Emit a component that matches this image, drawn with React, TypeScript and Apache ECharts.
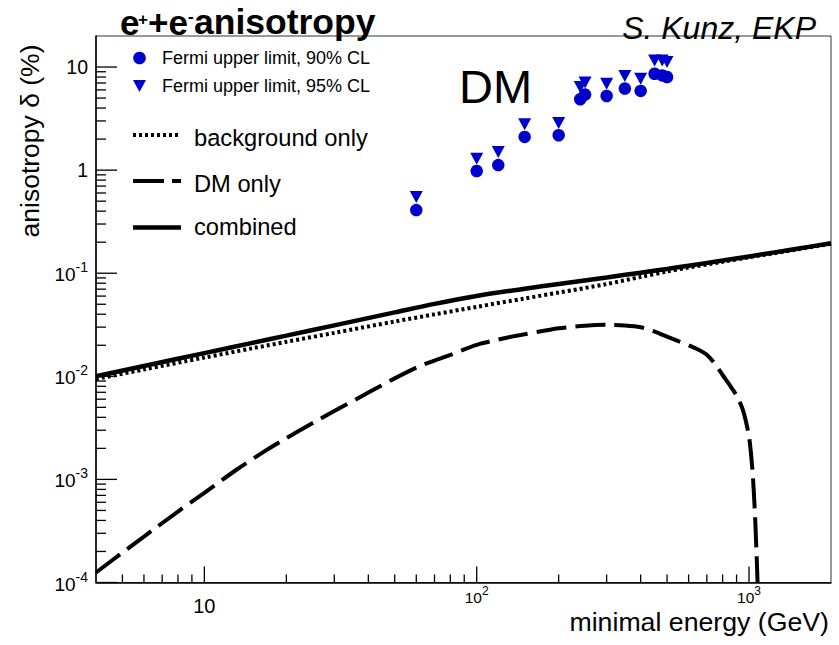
import React, { useEffect, useRef } from "react";
import * as echarts from "echarts";

// ---------- data ----------
const fermiEnergy = [60, 100, 120, 150, 200, 240, 250, 300, 350, 400, 450, 480, 500];
const fermi90 = [0.41, 0.98, 1.12, 2.1, 2.18, 4.87, 5.4, 5.24, 6.18, 5.86, 8.6, 8.3, 8.0];
const fermi95 = [0.55, 1.29, 1.5, 2.79, 2.87, 6.4, 7.07, 6.9, 8.17, 7.7, 11.6, 11.6, 11.2];

const curveEnergy = [4, 6, 10, 15, 20, 30, 50, 70, 100, 150, 200, 300, 400, 500, 600, 800, 1000, 1500, 2000];
const combined = [0.01, 0.01258, 0.0168, 0.0211, 0.0248, 0.0312, 0.0417, 0.0504, 0.0602, 0.0708, 0.0787, 0.091, 0.1012, 0.1101, 0.1183, 0.1327, 0.1455, 0.1725, 0.1954];
const background = [0.0094, 0.01166, 0.0152, 0.0187, 0.0216, 0.0264, 0.034, 0.0399, 0.0472, 0.0569, 0.0649, 0.0785, 0.092, 0.104, 0.1135, 0.129, 0.1425, 0.17, 0.193];

const dmEnergy = [4, 5, 6, 8, 10, 13, 16.5, 20, 25, 30, 40, 50, 60, 70, 80, 100, 130, 150, 200, 250, 300, 350, 400, 450, 500, 550, 600, 650, 700, 750, 800, 850, 900, 950, 1000, 1030, 1050, 1065, 1075];
const dmOnly = [1.25e-4, 1.95e-4, 2.79e-4, 4.88e-4, 7.41e-4, 1.22e-3, 1.85e-3, 2.51e-3, 3.52e-3, 4.6e-3, 6.95e-3, 9.55e-3, 0.01216, 0.0142, 0.0161, 0.0202, 0.0238, 0.0256, 0.0292, 0.031, 0.0316, 0.0311, 0.0299, 0.0272, 0.0243, 0.0219, 0.02, 0.0182, 0.0162, 0.0132, 0.0103, 0.0082, 0.0065, 0.0047, 0.0026, 0.0012, 5e-4, 2e-4, 1e-4];

// ---------- axes ----------
const X_MIN = 4;
const X_MAX = 2000;
const Y_MIN = 1e-4;
const Y_MAX = 20;

const xMajorTicks = [10, 100, 1000];
const xMinorTicks = [5, 6, 7, 8, 9, 20, 30, 40, 50, 60, 70, 80, 90, 200, 300, 400, 500, 600, 700, 800, 900];
const yMajorTicks = [1e-4, 1e-3, 1e-2, 1e-1, 1, 10];
const yMinorMantissa = [2, 3, 4, 5, 6, 7, 8, 9];

const xLabelValues = [10, 100, 1000];
const xLabelBase = ["10", "10", "10"];
const xLabelSup = ["", "2", "3"];
const yLabelValues = [1e-4, 1e-3, 1e-2, 1e-1, 1, 10];
const yLabelBase = ["10", "10", "10", "10", "1", "10"];
const yLabelSup = ["-4", "-3", "-2", "-1", "", ""];

const FONT = "Liberation Sans, Arial, Helvetica, sans-serif";
const BLUE = "#0000cc";

const X_PLAIN = 20;
const X_BASE = 15.5;
const X_SUP = 12;
const Y_PLAIN = 19.5;
const Y_BASE = 19;
const Y_SUP = 14;

let measureCtx: CanvasRenderingContext2D | null = null;
function textWidth(text: string, size: number, weight = "normal"): number {
  if (!measureCtx) measureCtx = document.createElement("canvas").getContext("2d");
  if (!measureCtx) return text.length * size * 0.55;
  measureCtx.font = `${weight} ${size}px "Liberation Sans", Arial, sans-serif`;
  return measureCtx.measureText(text).width;
}

function txt(x: number, y: number, text: string, size: number, extra: any = {}) {
  return {
    type: "text",
    x,
    y,
    style: {
      text,
      fontFamily: FONT,
      fontSize: size,
      fill: "#000",
      align: "left",
      verticalAlign: "middle",
      ...extra,
    },
  };
}

function labelText(x: number, y: number, text: string, size: number, align: string) {
  return {
    type: "text",
    x,
    y,
    style: { text, fontFamily: FONT, fontSize: size, fill: "#000", align, verticalAlign: "middle" },
  };
}

export default function App() {
  const ref = useRef<HTMLDivElement>(null);

  useEffect(() => {
    if (!ref.current) return;
    const chart = echarts.init(ref.current, null, { renderer: "svg" });

    const yMinorTicks: number[] = [];
    for (let e = -4; e <= 0; e++) {
      for (const m of yMinorMantissa) yMinorTicks.push(m * Math.pow(10, e));
    }
    const tickData = [
      ...xMajorTicks.map((v) => [v, Y_MIN, 0]),
      ...xMinorTicks.map((v) => [v, Y_MIN, 1]),
      ...yMajorTicks.map((v) => [X_MIN, v, 2]),
      ...yMinorTicks.map((v) => [X_MIN, v, 3]),
    ];

    const labelSeries = (name: string, data: number[][], render: (p: number[], i: number) => any) => ({
      name,
      type: "custom",
      clip: false,
      silent: true,
      data,
      renderItem: (params: any, api: any) => {
        const p = api.coord([api.value(0), api.value(1)]);
        return render(p, params.dataIndex);
      },
      z: 2,
    });

    const option: any = {
      animation: false,
      backgroundColor: "#fff",
      grid: {
        left: 96,
        right: 8,
        top: 36,
        bottom: 62.5,
        show: true,
        borderColor: "#333",
        borderWidth: 1,
        backgroundColor: "transparent",
      },
      xAxis: {
        type: "log",
        logBase: 10,
        min: X_MIN,
        max: X_MAX,
        axisLine: { show: true, lineStyle: { color: "#000", width: 1.5 } },
        axisTick: { show: false },
        minorTick: { show: false },
        splitLine: { show: false },
        axisLabel: { show: false },
      },
      yAxis: {
        type: "log",
        logBase: 10,
        min: Y_MIN,
        max: Y_MAX,
        axisLine: { show: true, lineStyle: { color: "#000", width: 1.5 } },
        axisTick: { show: false },
        minorTick: { show: false },
        splitLine: { show: false },
        axisLabel: { show: false },
      },
      series: [
        {
          name: "ticks",
          type: "custom",
          clip: false,
          silent: true,
          data: tickData,
          renderItem: (params: any, api: any) => {
            const p = api.coord([api.value(0), api.value(1)]);
            const k = api.value(2);
            const len = k === 0 ? 16 : k === 1 ? 8 : k === 2 ? 21 : 10;
            const shape =
              k < 2
                ? { x1: p[0], y1: p[1], x2: p[0], y2: p[1] - len }
                : { x1: p[0], y1: p[1], x2: p[0] + len, y2: p[1] };
            return { type: "line", shape, style: { stroke: "#000", lineWidth: 1.3 } };
          },
          z: 1,
        },
        // x tick labels: base part
        labelSeries("xLabelBase", xLabelValues.map((v) => [v, Y_MIN]), (p, i) => {
          const sup = xLabelSup[i];
          if (!sup) return labelText(p[0], p[1] + 23.5, xLabelBase[i], X_PLAIN, "center");
          const wb = textWidth(xLabelBase[i], X_BASE);
          const ws = textWidth(sup, X_SUP);
          return labelText(p[0] - (wb + ws) / 2, p[1] + 15, xLabelBase[i], X_BASE, "left");
        }),
        // x tick labels: superscript part
        labelSeries("xLabelSup", xLabelValues.map((v) => [v, Y_MIN]), (p, i) => {
          const sup = xLabelSup[i];
          if (!sup) return null;
          const wb = textWidth(xLabelBase[i], X_BASE);
          const ws = textWidth(sup, X_SUP);
          return labelText(p[0] - (wb + ws) / 2 + wb, p[1] + 8, sup, X_SUP, "left");
        }),
        // y tick labels: base part
        labelSeries("yLabelBase", yLabelValues.map((v) => [X_MIN, v]), (p, i) => {
          const sup = yLabelSup[i];
          const right = p[0] - 8;
          if (!sup) return labelText(right, p[1], yLabelBase[i], Y_PLAIN, "right");
          const ws = textWidth(sup, Y_SUP);
          return labelText(right - ws, p[1] + 1.5, yLabelBase[i], Y_BASE, "right");
        }),
        // y tick labels: superscript part
        labelSeries("yLabelSup", yLabelValues.map((v) => [X_MIN, v]), (p, i) => {
          const sup = yLabelSup[i];
          if (!sup) return null;
          return labelText(p[0] - 8, p[1] - 6, sup, Y_SUP, "right");
        }),
        {
          name: "Fermi upper limit, 90% CL",
          type: "scatter",
          symbol: "circle",
          symbolSize: 12.5,
          itemStyle: { color: BLUE, opacity: 1 },
          data: fermiEnergy.map((x, i) => [x, fermi90[i]]),
          z: 3,
        },
        {
          name: "Fermi upper limit, 95% CL",
          type: "scatter",
          symbol: "path://M0,0L14,0L7,12Z",
          symbolSize: [13, 12],
          itemStyle: { color: BLUE, opacity: 1 },
          data: fermiEnergy.map((x, i) => [x, fermi95[i]]),
          z: 3,
        },
        {
          name: "background only",
          type: "line",
          symbol: "none",
          smooth: 0.3,
          lineStyle: { color: "#000", width: 4, type: [3, 3], cap: "butt" },
          data: curveEnergy.map((x, i) => [x, background[i]]),
          z: 4,
        },
        {
          name: "DM only",
          type: "line",
          symbol: "none",
          smooth: 0.25,
          lineStyle: { color: "#000", width: 4, type: [30, 9], cap: "butt" },
          data: dmEnergy.map((x, i) => [x, dmOnly[i]]),
          z: 4,
        },
        {
          name: "combined",
          type: "line",
          symbol: "none",
          smooth: 0.35,
          lineStyle: { color: "#000", width: 4.5 },
          data: curveEnergy.map((x, i) => [x, combined[i]]),
          z: 5,
        },
      ],
      graphic: [
        // title: e+ + e- anisotropy
        txt(120, 22, "e", 35, { fontWeight: "bold" }),
        txt(138, 19, "+", 17, { fontWeight: "bold" }),
        txt(148, 22, "+e", 35, { fontWeight: "bold" }),
        txt(188, 16, "-", 17, { fontWeight: "bold" }),
        txt(194, 22, "anisotropy", 35.5, { fontWeight: "bold" }),
        txt(816, 28, "S. Kunz, EKP", 32, { fontStyle: "italic", align: "right" }),
        txt(459, 86, "DM", 47),
        { type: "circle", shape: { cx: 139.5, cy: 58, r: 6.3 }, style: { fill: BLUE } },
        {
          type: "polygon",
          shape: { points: [[133, 80], [146, 80], [139.5, 92]] },
          style: { fill: BLUE },
        },
        txt(162, 58, "Fermi upper limit, 90% CL", 18),
        txt(162, 86, "Fermi upper limit, 95% CL", 18),
        {
          type: "line",
          shape: { x1: 133, y1: 135, x2: 181, y2: 135 },
          style: { stroke: "#000", lineWidth: 4, lineDash: [3, 3], lineCap: "butt" },
        },
        {
          type: "line",
          shape: { x1: 133, y1: 181, x2: 181, y2: 181 },
          style: { stroke: "#000", lineWidth: 4, lineDash: [31, 8], lineCap: "butt" },
        },
        {
          type: "line",
          shape: { x1: 133, y1: 227.5, x2: 181, y2: 227.5 },
          style: { stroke: "#000", lineWidth: 4.5 },
        },
        txt(194, 137.5, "background only", 23.7),
        txt(194, 184, "DM only", 23.7),
        txt(194, 227, "combined", 23.7),
        {
          type: "text",
          x: 30,
          y: 141,
          rotation: Math.PI / 2,
          style: {
            text: "anisotropy δ (%)",
            fontFamily: FONT,
            fontSize: 26.5,
            fill: "#000",
            align: "center",
            verticalAlign: "middle",
          },
        },
        txt(829, 622, "minimal energy (GeV)", 26.7, { align: "right" }),
      ],
    };

    chart.setOption(option);
    return () => chart.dispose();
  }, []);

  return (
    <div
      ref={ref}
      style={{ position: "absolute", left: 0, top: 0, width: 839, height: 645, background: "#fff" }}
    />
  );
}
